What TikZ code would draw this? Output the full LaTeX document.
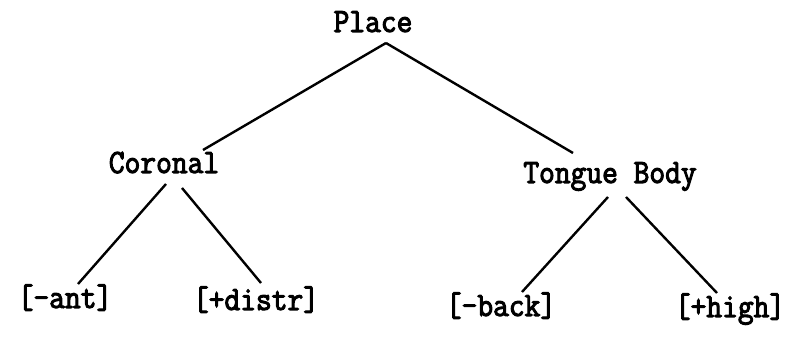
\documentclass[tikz,border=0pt]{standalone}
\usepackage{fontspec}
\newfontfamily\treefont{Latin Modern Mono}[FakeStretch=0.9, FakeBold=3]
\tikzset{
  feat/.style={inner sep=0pt, anchor=base, font=\treefont\fontsize{17}{19}\selectfont},
  branch/.style={line width=1.2pt}
}
\begin{document}
\begin{tikzpicture}[x=0.5pt,y=-0.5pt]
\useasboundingbox (0,0) rectangle (787,341);
\node[feat](place) at (373,32){Place};
\node[feat](cor) at (164,173){Coronal};
\node[feat](tb) at (610,183){Tongue Body};
\node[feat](ant) at (65,308){[-ant]};
\node[feat](distr) at (256,310){[+distr]};
\node[feat](back) at (501,316){[-back]};
\node[feat](high) at (730,317){[+high]};

\draw[branch]([shift={(13,11)}]place.base)--([shift={(39,-23)}]cor.base);
\draw[branch]([shift={(13,11)}]place.base)--([shift={(-37,-30)}]tb.base);
\draw[branch]([shift={(2,11)}]cor.base)--([shift={(13,-24)}]ant.base);
\draw[branch]([shift={(18,15)}]cor.base)--([shift={(5,-27)}]distr.base);
\draw[branch]([shift={(-2,14)}]tb.base)--([shift={(21,-24)}]back.base);
\draw[branch]([shift={(16,14)}]tb.base)--([shift={(-13,-24)}]high.base);

\end{tikzpicture}
\end{document}
